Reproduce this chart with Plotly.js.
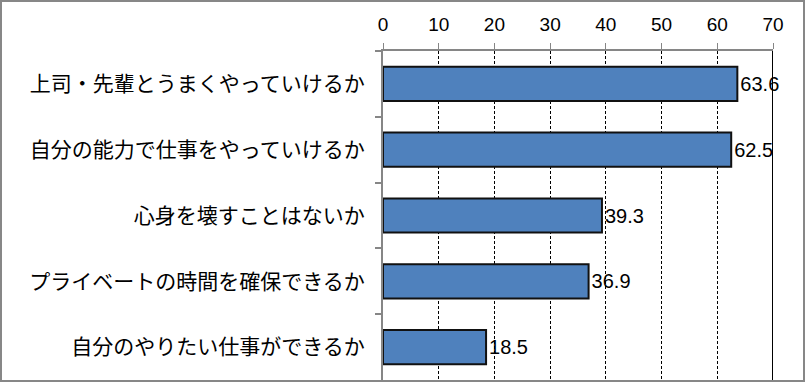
<!DOCTYPE html>
<html>
<head>
<meta charset="utf-8">
<script src="https://cdn.plot.ly/plotly-3.0.1.min.js"></script>
<style>
html,body{margin:0;padding:0;background:#fff;}
#wrap{width:805px;height:382px;box-sizing:border-box;border:2px solid #878787;position:relative;overflow:hidden;}
#chart{width:801px;height:378px;}
</style>
</head>
<body>
<div id="wrap"><div id="chart"></div></div>
<script>
const categories = [
  "上司・先輩とうまくやっていけるか",
  "自分の能力で仕事をやっていけるか",
  "心身を壊すことはないか",
  "プライベートの時間を確保できるか",
  "自分のやりたい仕事ができるか"
];
const values = [63.6, 62.5, 39.3, 36.9, 18.5];
const valueLabels = ["63.6", "62.5", "39.3", "36.9", "18.5"];
const xTicks = [0, 10, 20, 30, 40, 50, 60, 70];

const trace = {
  type: "bar",
  orientation: "h",
  y: categories,
  x: values,
  text: valueLabels,
  textposition: "outside",
  constraintext: "none",
  cliponaxis: false,
  textfont: {family: "Liberation Sans, Arial, sans-serif", size: 20, color: "#000"},
  marker: {color: "#4F81BD", line: {color: "#111111", width: 2}},
  width: 0.52,
  hoverinfo: "none"
};

const layout = {
  width: 801,
  height: 378,
  margin: {l: 381, r: 30, t: 49, b: 0, pad: 0},
  paper_bgcolor: "#ffffff",
  plot_bgcolor: "#ffffff",
  showlegend: false,
  bargap: 0.48,
  xaxis: {
    side: "top",
    range: [0, 70],
    tickvals: xTicks,
    ticktext: xTicks.map(String),
    ticks: "outside",
    ticklen: 6,
    tickwidth: 1,
    tickcolor: "#868686",
    showline: true,
    linecolor: "#868686",
    linewidth: 2,
    showgrid: true,
    gridcolor: "#000000",
    gridwidth: 1,
    griddash: "3px,2px",
    zeroline: false,
    ticklabelstandoff: 4,
    tickfont: {family: "Liberation Sans, Arial, sans-serif", size: 19, color: "#000"},
    fixedrange: true
  },
  yaxis: {
    type: "category",
    autorange: "reversed",
    tickson: "boundaries",
    ticks: "outside",
    ticklen: 6,
    tickwidth: 2,
    tickcolor: "#868686",
    showline: true,
    linecolor: "#868686",
    linewidth: 2,
    showgrid: false,
    zeroline: false,
    ticklabelstandoff: 12,
    tickfont: {family: "Noto Sans CJK JP, sans-serif", size: 21, color: "#000"},
    fixedrange: true
  },
  shapes: [
    {type: "line", xref: "x", yref: "paper", x0: 70, x1: 70, y0: 0, y1: 1,
     line: {color: "#000000", width: 2}}
  ]
};

Plotly.newPlot("chart", [trace], layout, {displayModeBar: false, staticPlot: true});
</script>
</body>
</html>
